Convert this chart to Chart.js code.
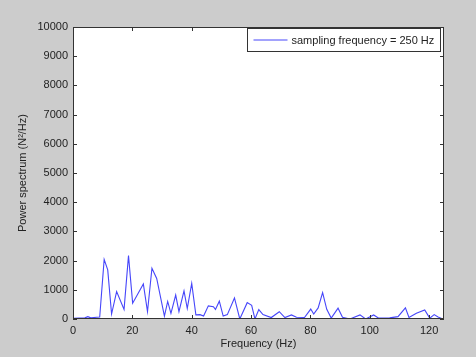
<!DOCTYPE html>
<html>
<head>
<meta charset="utf-8">
<script src="https://cdn.jsdelivr.net/npm/chart.js@4/dist/chart.umd.min.js"></script>
<style>
  html, body { margin: 0; padding: 0; background: #cccccc; }
  #wrap { width: 476px; height: 357px; }
</style>
</head>
<body>
<div id="wrap"><canvas id="spectrum"></canvas></div>
<script>
// spectrum
const freqHz = [0, 2, 4, 5, 6, 8, 9, 10.5, 11.7, 13, 14.7, 17.2, 18.7, 20.1, 23.7, 25.1, 26.6, 28.2,
  30.8, 31.9, 33, 34.6, 35.7, 37.4, 38.5, 40, 41.4, 42.8, 44, 45.6, 47.3, 48, 49.3, 50.6, 52,
  54.4, 56.2, 58.7, 60.2, 61.3, 62.6, 64, 66.8, 69.5, 71.4, 73.6, 75.3, 78, 80.1, 81.1, 82.6,
  84.1, 85.5, 87, 89.3, 90.8, 93.3, 96.7, 98.6, 101.3, 103, 106.7, 109.5, 112, 113.2, 115.7,
  118.5, 120.2, 121.7, 123, 124.6];
const power = [20, 30, 40, 80, 40, 60, 70, 2040, 1680, 170, 940, 330, 2170, 540, 1200, 250, 1740, 1390,
  100, 600, 190, 820, 250, 960, 360, 1220, 140, 150, 100, 450, 420, 330, 610, 100, 150,
  720, 0, 560, 470, 0, 320, 150, 50, 250, 50, 140, 60, 50, 340, 170, 380,
  900, 330, 30, 370, 60, 0, 140, 0, 140, 30, 40, 80, 380, 50, 200,
  310, 30, 150, 70, 0];
const xTicks = [0, 20, 40, 60, 80, 100, 120];
const yTicks = [0, 1000, 2000, 3000, 4000, 5000, 6000, 7000, 8000, 9000, 10000];
const legendLabel = 'sampling frequency = 250 Hz';

const lineColor = 'rgb(70,70,250)';

// matlab style frame: white axes, box, inward ticks, legend box
const matlabFrame = {
  id: 'matlabFrame',
  beforeDraw(chart) {
    const { ctx, chartArea: a } = chart;
    ctx.save();
    ctx.fillStyle = '#cccccc';
    ctx.fillRect(0, 0, chart.width, chart.height);
    ctx.fillStyle = '#ffffff';
    ctx.fillRect(a.left, a.top, a.right - a.left, a.bottom - a.top);
    ctx.restore();
  },
  afterDraw(chart) {
    const { ctx, chartArea: a, scales } = chart;
    ctx.save();
    ctx.strokeStyle = '#333333';
    ctx.lineWidth = 1;
    ctx.strokeRect(a.left + 0.5, a.top + 0.5, a.right - a.left - 1, a.bottom - a.top - 1);
    ctx.beginPath();
    xTicks.forEach(v => {
      const x = Math.round(scales.x.getPixelForValue(v)) + 0.5;
      ctx.moveTo(x, a.bottom); ctx.lineTo(x, a.bottom - 4);
      ctx.moveTo(x, a.top); ctx.lineTo(x, a.top + 4);
    });
    yTicks.forEach(v => {
      const y = Math.round(scales.y.getPixelForValue(v)) + 0.5;
      ctx.moveTo(a.left, y); ctx.lineTo(a.left + 4, y);
      ctx.moveTo(a.right, y); ctx.lineTo(a.right - 4, y);
    });
    ctx.stroke();

    // legend
    const bx = 247.5, by = 28.5, bw = 193, bh = 23;
    ctx.fillStyle = '#ffffff';
    ctx.fillRect(bx, by, bw, bh);
    ctx.strokeStyle = '#333333';
    ctx.strokeRect(bx, by, bw, bh);
    ctx.strokeStyle = lineColor;
    ctx.beginPath();
    ctx.moveTo(bx + 6, by + bh / 2); ctx.lineTo(bx + 40, by + bh / 2);
    ctx.stroke();
    ctx.fillStyle = '#222222';
    ctx.font = '11px "Liberation Sans", Arial, sans-serif';
    ctx.textBaseline = 'middle';
    ctx.fillText(legendLabel, bx + 44, by + bh / 2 + 0.5);
    ctx.restore();
  }
};

new Chart(document.getElementById('spectrum'), {
  type: 'line',
  data: {
    datasets: [{
      label: legendLabel,
      data: freqHz.map((f, i) => ({ x: f, y: power[i] })),
      borderColor: lineColor,
      borderWidth: 1.1,
      pointRadius: 0,
      tension: 0,
      fill: false
    }]
  },
  options: {
    responsive: true,
    maintainAspectRatio: false,
    animation: false,
    layout: { padding: { top: 27, right: 32, left: 0, bottom: 0 } },
    plugins: {
      legend: { display: false },
      tooltip: { enabled: false }
    },
    scales: {
      x: {
        type: 'linear',
        min: 0,
        max: 125,
        afterBuildTicks: s => { s.ticks = xTicks.map(v => ({ value: v })); },
        afterFit: s => { s.height = 38; },
        grid: { display: false, drawTicks: false },
        border: { display: false },
        ticks: { color: '#222', padding: 5, maxRotation: 0, font: { family: '"Liberation Sans", Arial', size: 11 } },
        title: { display: true, text: 'Frequency (Hz)', color: '#222', padding: { top: 2, bottom: 6 },
                 font: { family: '"Liberation Sans", Arial', size: 11 } }
      },
      y: {
        min: 0,
        max: 10000,
        afterBuildTicks: s => { s.ticks = yTicks.map(v => ({ value: v })); },
        afterFit: s => { s.width = 73; },
        grid: { display: false, drawTicks: false },
        border: { display: false },
        ticks: { color: '#222', padding: 5, callback: v => String(v), font: { family: '"Liberation Sans", Arial', size: 11 } },
        title: { display: true, text: 'Power spectrum (N²/Hz)', color: '#222', padding: { top: 16, bottom: 8 },
                 font: { family: '"Liberation Sans", Arial', size: 11 } }
      }
    }
  },
  plugins: [matlabFrame]
});
</script>
</body>
</html>
